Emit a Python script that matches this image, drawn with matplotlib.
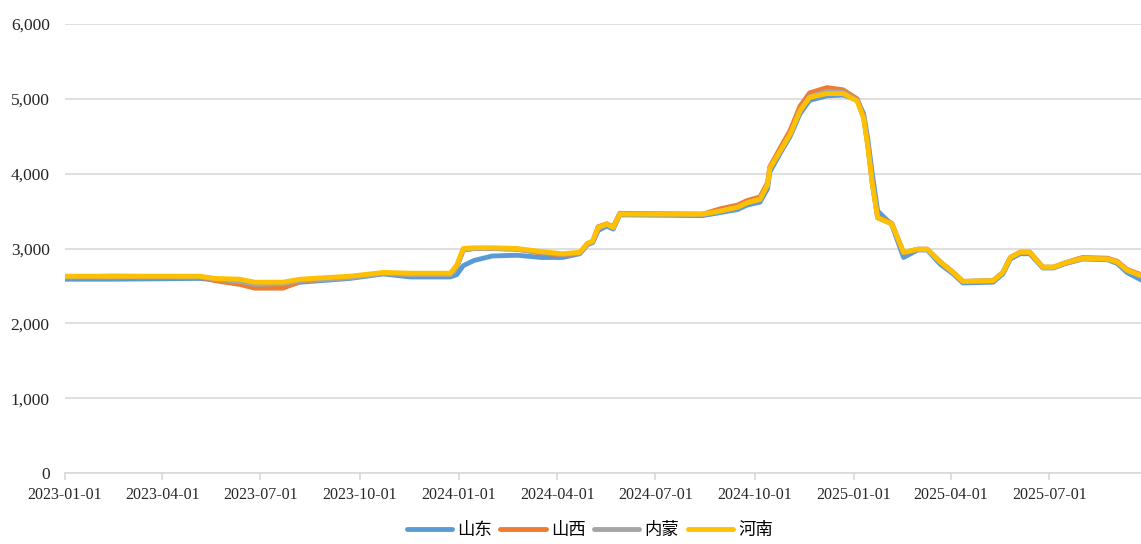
import matplotlib.pyplot as plt
import matplotlib.dates as mdates
import numpy as np
import pandas as pd

plt.rcParams['font.family'] = ['Liberation Serif', 'Noto Sans CJK SC', 'DejaVu Sans']

# 日期 (shared by all four series)
dates = pd.to_datetime([
    '2023-01-01', '2023-02-15', '2023-05-06', '2023-05-20', '2023-06-12',
    '2023-06-26', '2023-07-22', '2023-08-07', '2023-09-22', '2023-10-23',
    '2023-11-17', '2023-12-24', '2023-12-30', '2024-01-05', '2024-01-15',
    '2024-02-01', '2024-02-24', '2024-03-17', '2024-04-06', '2024-04-22',
    '2024-04-29', '2024-05-04', '2024-05-09', '2024-05-17', '2024-05-23',
    '2024-05-29', '2024-08-14', '2024-08-30', '2024-09-15', '2024-09-24',
    '2024-10-06', '2024-10-13', '2024-10-15', '2024-10-25', '2024-11-03',
    '2024-11-12', '2024-11-21', '2024-12-07', '2024-12-22', '2025-01-04',
    '2025-01-10', '2025-01-14', '2025-01-18', '2025-01-23', '2025-02-05',
    '2025-02-16', '2025-03-01', '2025-03-10', '2025-03-22', '2025-04-03',
    '2025-04-12', '2025-05-10', '2025-05-19', '2025-05-26', '2025-06-04',
    '2025-06-13', '2025-06-25', '2025-07-05', '2025-07-14', '2025-07-27',
    '2025-08-01', '2025-08-24', '2025-09-02', '2025-09-11', '2025-09-24',
])

shandong = [
    2590, 2590, 2600, 2580, 2530, 2480, 2490, 2550, 2600, 2660,
    2620, 2620, 2650, 2770, 2840, 2900, 2910, 2880, 2880, 2930,
    3050, 3080, 3240, 3300, 3260, 3450, 3440, 3480, 3520, 3580,
    3620, 3800, 4020, 4280, 4500, 4800, 4980, 5040, 5050, 4990,
    4800, 4450, 4000, 3500, 3320, 2880, 2980, 2980, 2790, 2660,
    2540, 2550, 2660, 2860, 2930, 2930, 2740, 2740, 2790, 2840,
    2860, 2850, 2800, 2680, 2580,
]
shanxi = [
    2620, 2630, 2620, 2570, 2520, 2470, 2470, 2560, 2620, 2670,
    2660, 2660, 2760, 2980, 3000, 3000, 2990, 2940, 2910, 2940,
    3060, 3100, 3290, 3330, 3290, 3470, 3460, 3530, 3580, 3640,
    3690, 3880, 4090, 4350, 4580, 4900, 5080, 5150, 5120, 5000,
    4760, 4380, 3880, 3420, 3340, 2940, 2990, 2990, 2820, 2680,
    2560, 2570, 2680, 2880, 2950, 2950, 2750, 2750, 2800, 2860,
    2880, 2870, 2830, 2720, 2650,
]
neimeng = [
    2620, 2620, 2620, 2590, 2560, 2520, 2530, 2570, 2610, 2670,
    2650, 2650, 2750, 2980, 3000, 3000, 2990, 2950, 2920, 2940,
    3060, 3090, 3270, 3320, 3280, 3460, 3450, 3500, 3550, 3610,
    3650, 3860, 4060, 4310, 4530, 4840, 5030, 5100, 5090, 4980,
    4750, 4360, 3870, 3410, 3330, 2940, 2990, 2990, 2820, 2680,
    2560, 2570, 2680, 2880, 2950, 2950, 2750, 2750, 2800, 2850,
    2870, 2860, 2820, 2710, 2630,
]
henan = [
    2630, 2630, 2630, 2600, 2590, 2550, 2550, 2590, 2630, 2680,
    2670, 2670, 2780, 3000, 3010, 3010, 3000, 2960, 2930, 2950,
    3070, 3100, 3280, 3330, 3280, 3460, 3460, 3500, 3550, 3610,
    3660, 3850, 4070, 4310, 4530, 4840, 5020, 5070, 5070, 4970,
    4740, 4350, 3870, 3410, 3330, 2950, 2990, 2990, 2820, 2680,
    2560, 2570, 2680, 2880, 2950, 2950, 2750, 2750, 2800, 2850,
    2870, 2860, 2820, 2710, 2640,
]

names = ['山东', '山西', '内蒙', '河南']
colors = ['#5B9BD5', '#ED7D31', '#A5A5A5', '#FFC000']
tick_dates = pd.to_datetime(['2023-01-01', '2023-04-01', '2023-07-01', '2023-10-01',
                             '2024-01-01', '2024-04-01', '2024-07-01', '2024-10-01',
                             '2025-01-01', '2025-04-01', '2025-07-01'])

fig = plt.figure(figsize=(11.41, 5.44), dpi=100)
ax = fig.add_axes([65 / 1141, 1 - 473 / 544, 1 - 65 / 1141, (473 - 24) / 544])

for vals, name, c in zip([shandong, shanxi, neimeng, henan], names, colors):
    ax.plot(dates, vals, color=c, lw=3.5, label=name, solid_capstyle='round')

ax.set_ylim(0, 6000)
ax.set_xlim(pd.Timestamp('2023-01-01'), pd.Timestamp('2025-09-24'))
ax.set_yticks(np.arange(0, 6001, 1000))
ax.yaxis.set_major_formatter(plt.FuncFormatter(lambda v, p: f'{int(v):,}'))
ax.set_xticks(tick_dates)
ax.xaxis.set_major_formatter(mdates.DateFormatter('%Y-%m-%d'))

ax.grid(axis='y', color='#d9d9d9', lw=1.2)
ax.set_axisbelow(True)
for s in ['top', 'right', 'left']:
    ax.spines[s].set_visible(False)
ax.spines['bottom'].set_color('#d9d9d9')
ax.spines['bottom'].set_linewidth(1.2)
ax.tick_params(axis='y', length=0, pad=11, labelsize=12.5, labelcolor='#262626')
ax.tick_params(axis='x', length=5, width=1.2, color='#d9d9d9', pad=5,
               labelsize=11.5, labelcolor='#262626')

fig.legend(loc='center', bbox_to_anchor=(0.517, 0.026), ncol=4, frameon=False,
           handlelength=2.6, handletextpad=0.3, columnspacing=0.5,
           prop={'family': ['Noto Sans CJK SC', 'DejaVu Sans'], 'size': 12.5})

fig.savefig('out.png', dpi=100)
